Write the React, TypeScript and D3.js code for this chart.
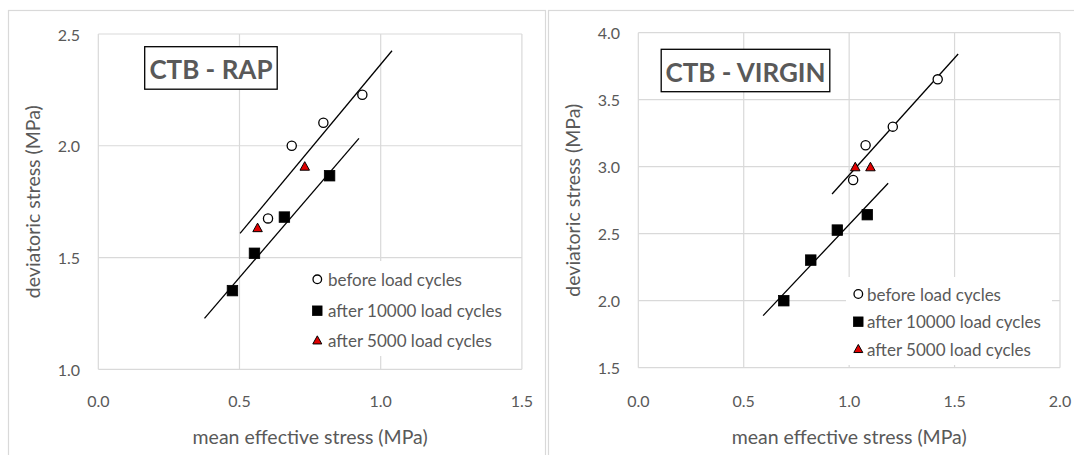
import React from "react";
import * as d3 from "d3";

// ---------- DATA ----------
const rapBeforeX = [0.601, 0.685, 0.797, 0.935];
const rapBeforeY = [1.675, 2.0, 2.103, 2.228];
const rap10000X = [0.475, 0.553, 0.659, 0.819];
const rap10000Y = [1.352, 1.519, 1.681, 1.866];
const rap5000X = [0.564, 0.731];
const rap5000Y = [1.631, 1.906];
const rapTrendUpperX = [0.502, 1.04];
const rapTrendUpperY = [1.608, 2.425];
const rapTrendLowerX = [0.376, 0.923];
const rapTrendLowerY = [1.228, 2.033];
const rapXTicks = [0, 0.5, 1.0, 1.5];
const rapYTicks = [1.0, 1.5, 2.0, 2.5];

const virBeforeX = [1.019, 1.078, 1.207, 1.42];
const virBeforeY = [2.901, 3.16, 3.299, 3.652];
const vir10000X = [0.69, 0.818, 0.944, 1.086];
const vir10000Y = [2.0, 2.303, 2.527, 2.642];
const vir5000X = [1.029, 1.101];
const vir5000Y = [2.995, 2.995];
const virTrendUpperX = [0.919, 1.517];
const virTrendUpperY = [2.796, 3.841];
const virTrendLowerX = [0.592, 1.185];
const virTrendLowerY = [1.889, 2.876];
const virXTicks = [0, 0.5, 1.0, 1.5, 2.0];
const virYTicks = [1.5, 2.0, 2.5, 3.0, 3.5, 4.0];

const legendLabels = ["before load cycles", "after 10000 load cycles", "after 5000 load cycles"];
const xTitle = "mean effective stress (MPa)";
const yTitle = "deviatoric stress (MPa)";

const FONT = "Lato, 'Open Sans', sans-serif";
const TEXT = "#595959";
const GRID = "#d9d9d9";

type Pt = [number, number];
const zip = (xs: number[], ys: number[]): Pt[] => xs.map((x, i) => [x, ys[i]]);

function Circle({ x, y, r = 4.6 }: { x: number; y: number; r?: number }) {
  return <circle cx={x} cy={y} r={r} fill="#fff" stroke="#000" strokeWidth={1.3} />;
}
function Square({ x, y, s = 10.5 }: { x: number; y: number; s?: number }) {
  return <rect x={x - s / 2} y={y - s / 2} width={s} height={s} fill="#000" stroke="#000" strokeWidth={0.8} />;
}
function Tri({ x, y, s = 9.5 }: { x: number; y: number; s?: number }) {
  const h = s * 0.9;
  const p = `M${x},${y - h * 0.6} L${x + s / 2},${y + h * 0.4} L${x - s / 2},${y + h * 0.4} Z`;
  return <path d={p} fill="#e00000" stroke="#000" strokeWidth={1} />;
}

interface PanelProps {
  px0: number; px1: number; py0: number; py1: number;
  xDomain: [number, number]; yDomain: [number, number];
  xTicks: number[]; yTicks: number[];
  before: Pt[]; after10000: Pt[]; after5000: Pt[];
  upper: Pt[]; lower: Pt[];
  title: string; titleBox: [number, number, number, number]; titleSize: number;
  legend: { x: number; textX: number; rows: number[]; box: [number, number, number, number] };
  yLabelRight: number; xLabelY: number; yTitleX: number; xTitleY: number;
}

function Panel(p: PanelProps) {
  const x = d3.scaleLinear().domain(p.xDomain).range([p.px0, p.px1]);
  const y = d3.scaleLinear().domain(p.yDomain).range([p.py1, p.py0]);
  const line = d3.line<Pt>().x((d) => x(d[0])).y((d) => y(d[1]));
  const fmt = d3.format(".1f");
  const [bx, by, bw, bh] = p.titleBox;
  const [lx, ly, lw, lh] = p.legend.box;
  return (
    <g>
      {p.xTicks.map((t) => (
        <line key={"gx" + t} x1={x(t)} x2={x(t)} y1={p.py0} y2={p.py1} stroke={GRID} strokeWidth={1.2} />
      ))}
      {p.yTicks.map((t) => (
        <line key={"gy" + t} x1={p.px0} x2={p.px1} y1={y(t)} y2={y(t)} stroke={GRID} strokeWidth={1.2} />
      ))}
      {p.xTicks.map((t) => (
        <text key={"lx" + t} x={x(t)} y={p.xLabelY} textAnchor="middle" dominantBaseline="central" fontFamily={FONT} fontSize={16} fill={TEXT}>{fmt(t)}</text>
      ))}
      {p.yTicks.map((t) => (
        <text key={"ly" + t} x={p.yLabelRight} y={y(t)} textAnchor="end" dominantBaseline="central" fontFamily={FONT} fontSize={16} fill={TEXT}>{fmt(t)}</text>
      ))}
      <text x={(p.px0 + p.px1) / 2} y={p.xTitleY} textAnchor="middle" dominantBaseline="central" fontFamily={FONT} fontSize={19.5} fill={TEXT}>{xTitle}</text>
      <text transform={`translate(${p.yTitleX},${(p.py0 + p.py1) / 2}) rotate(-90)`} textAnchor="middle" dominantBaseline="central" fontFamily={FONT} fontSize={19.5} fill={TEXT}>{yTitle}</text>

      {/* legend background */}
      <rect x={lx} y={ly} width={lw} height={lh} fill="#fff" />

      <path d={line(p.upper) || ""} fill="none" stroke="#000" strokeWidth={1.3} />
      <path d={line(p.lower) || ""} fill="none" stroke="#000" strokeWidth={1.3} />

      {p.before.map((d, i) => <Circle key={"b" + i} x={x(d[0])} y={y(d[1])} />)}
      {p.after10000.map((d, i) => <Square key={"s" + i} x={x(d[0])} y={y(d[1])} />)}
      {p.after5000.map((d, i) => <Tri key={"t" + i} x={x(d[0])} y={y(d[1])} />)}

      <rect x={bx} y={by} width={bw} height={bh} fill="#fff" stroke="#000" strokeWidth={1.3} />
      <text x={bx + bw / 2} y={by + bh / 2 + 1} textAnchor="middle" dominantBaseline="central" fontFamily={FONT} fontWeight="bold" fontSize={p.titleSize} fill={TEXT}>{p.title}</text>

      <Circle x={p.legend.x} y={p.legend.rows[0]} r={4.3} />
      <Square x={p.legend.x} y={p.legend.rows[1]} s={9.5} />
      <Tri x={p.legend.x} y={p.legend.rows[2]} s={9} />
      {legendLabels.map((l, i) => (
        <text key={l} x={p.legend.textX} y={p.legend.rows[i]} dominantBaseline="central" fontFamily={FONT} fontSize={17} fill={TEXT}>{l}</text>
      ))}
    </g>
  );
}

export default function App() {
  return (
    <div style={{ position: "absolute", left: 0, top: 0 }}>
      <svg width={1074} height={455} style={{ display: "block", background: "#fff" }}>
        <rect x={8.5} y={10.5} width={537} height={470} fill="#fff" stroke={GRID} strokeWidth={1.2} />
        <rect x={548.5} y={10.5} width={560} height={470} fill="#fff" stroke={GRID} strokeWidth={1.2} />
        <Panel
          px0={98.3} px1={521.9} py0={34} py1={369.3}
          xDomain={[0, 1.5]} yDomain={[1.0, 2.5]}
          xTicks={rapXTicks} yTicks={rapYTicks}
          before={zip(rapBeforeX, rapBeforeY)}
          after10000={zip(rap10000X, rap10000Y)}
          after5000={zip(rap5000X, rap5000Y)}
          upper={zip(rapTrendUpperX, rapTrendUpperY)}
          lower={zip(rapTrendLowerX, rapTrendLowerY)}
          title="CTB - RAP" titleBox={[144.7, 46.7, 132.5, 42.5]} titleSize={26}
          legend={{ x: 317.3, textX: 328, rows: [279.3, 310.7, 340.7], box: [308, 261, 208, 95] }}
          yLabelRight={80} xLabelY={400.7} yTitleX={32} xTitleY={436}
        />
        <Panel
          px0={638.3} px1={1060} py0={32.7} py1={367.7}
          xDomain={[0, 2.0]} yDomain={[1.5, 4.0]}
          xTicks={virXTicks} yTicks={virYTicks}
          before={zip(virBeforeX, virBeforeY)}
          after10000={zip(vir10000X, vir10000Y)}
          after5000={zip(vir5000X, vir5000Y)}
          upper={zip(virTrendUpperX, virTrendUpperY)}
          lower={zip(virTrendLowerX, virTrendLowerY)}
          title="CTB - VIRGIN" titleBox={[661.2, 49.3, 168.6, 42.4]} titleSize={26}
          legend={{ x: 858.3, textX: 867, rows: [294, 321.7, 349.3], box: [846, 277, 206, 88] }}
          yLabelRight={620} xLabelY={400.7} yTitleX={572} xTitleY={436}
        />
      </svg>
    </div>
  );
}
